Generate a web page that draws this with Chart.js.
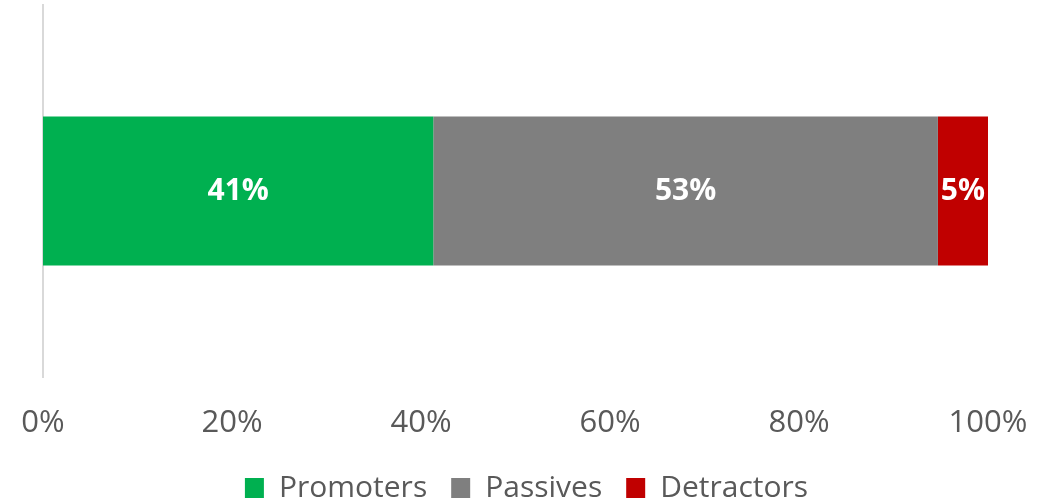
<!DOCTYPE html>
<html>
<head>
<meta charset="utf-8">
<script src="https://cdn.jsdelivr.net/npm/chart.js@4/dist/chart.umd.min.js"></script>
<style>
    html, body { margin: 0; padding: 0; background: #ffffff; }
    #wrap { width: 1053px; height: 503px; position: relative; }
</style>
</head>
<body>
<div id="wrap"><canvas id="npsChart"></canvas></div>
<script>
// Dữ liệu biểu đồ
var categories = ['NPS'];
var seriesNames = ['Promoters', 'Passives', 'Detractors'];
var promoters = [41.3];
var passives = [53.4];
var detractors = [5.3];
var tickValues = [0, 20, 40, 60, 80, 100];

var seriesColors = ['#00b050', '#7f7f7f', '#c00000'];

// Plugin vẽ nhãn phần trăm ở giữa mỗi đoạn
var barLabels = {
    id: 'barLabels',
    afterDatasetsDraw: function (chart) {
        var ctx = chart.ctx;
        ctx.save();
        ctx.fillStyle = '#ffffff';
        ctx.font = 'bold 30px "Open Sans"';
        ctx.textAlign = 'center';
        ctx.textBaseline = 'middle';
        chart.data.datasets.forEach(function (ds, i) {
            var meta = chart.getDatasetMeta(i);
            meta.data.forEach(function (bar, j) {
                var p = bar.getCenterPoint();
                ctx.fillText(Math.round(ds.data[j]) + '%', p.x, p.y);
            });
        });
        ctx.restore();
    }
};

var ctx = document.getElementById('npsChart').getContext('2d');
new Chart(ctx, {
    type: 'bar',
    data: {
        labels: categories,
        datasets: [{
            label: seriesNames[0],
            data: promoters,
            backgroundColor: seriesColors[0]
        }, {
            label: seriesNames[1],
            data: passives,
            backgroundColor: seriesColors[1]
        }, {
            label: seriesNames[2],
            data: detractors,
            backgroundColor: seriesColors[2]
        }]
    },
    options: {
        indexAxis: 'y',
        responsive: true,
        maintainAspectRatio: false,
        animation: false,
        categoryPercentage: 0.4,
        barPercentage: 1.0,
        layout: {
            padding: { left: 0, right: 0, top: 5, bottom: 0 }
        },
        scales: {
            x: {
                stacked: true,
                min: 0,
                max: 100,
                afterBuildTicks: function (scale) {
                    scale.ticks = tickValues.map(function (v) { return { value: v }; });
                },
                afterFit: function (scale) {
                    scale.height = 72;
                    scale.paddingLeft = 43;
                    scale.paddingRight = 65;
                },
                grid: { display: false },
                border: { display: false },
                ticks: {
                    padding: 20,
                    color: '#595959',
                    font: { family: '"Open Sans"', size: 31 },
                    callback: function (v) { return v + '%'; }
                }
            },
            y: {
                stacked: true,
                grid: { display: false },
                border: { display: true, color: '#d9d9d9', width: 2 },
                ticks: { display: false }
            }
        },
        plugins: {
            tooltip: { enabled: false },
            legend: {
                position: 'bottom',
                maxHeight: 54,
                labels: {
                    color: '#595959',
                    font: { family: '"Open Sans"', size: 30 },
                    boxWidth: 19,
                    boxHeight: 20,
                    padding: 24
                }
            }
        }
    },
    plugins: [barLabels]
});
</script>
</body>
</html>
